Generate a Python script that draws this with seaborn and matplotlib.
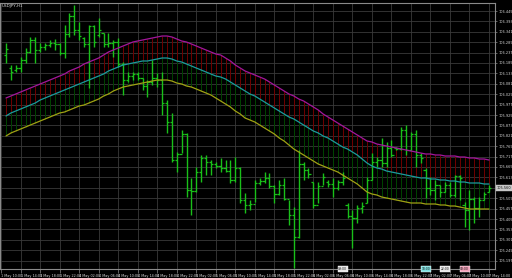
import numpy as np
import pandas as pd
import matplotlib
matplotlib.use("Agg")
import matplotlib.pyplot as plt
import seaborn as sns
from matplotlib.transforms import blended_transform_factory

symbol_title = "USDJPY,H1"

bar_high = [106.285, 106.175, 106.175, 106.215, 106.260, 106.315, 106.315, 106.285, 106.285, 106.300,
            106.305, 106.285, 106.375, 106.435, 106.475, 106.390, 106.315, 106.375, 106.375, 106.410,
            106.335, 106.335, 106.300, 106.310, 106.190, 106.140, 106.140, 106.140, 106.110, 106.100,
            106.200, 106.135, 106.140, 106.000, 105.935, 105.740, 105.850, 105.835, 105.610, 105.665,
            105.725, 105.725, 105.700, 105.690, 105.710, 105.700, 105.700, 105.715, 105.665, 105.535,
            105.500, 105.600, 105.610, 105.640, 105.635, 105.575, 105.600, 105.610, 105.500, 105.465,
            105.750, 105.690, 105.660, 105.590, 105.590, 105.635, 105.600, 105.610, 105.600, 105.640,
            105.485, 105.450, 105.475, 105.490, 105.615, 105.735, 105.715, 105.810, 105.790, 105.800,
            105.765, 105.865, 105.875, 105.840, 105.850, 105.735, 105.660, 105.615, 105.600, 105.575,
            105.590, 105.590, 105.625, 105.625, 105.490, 105.550, 105.515, 105.515, 105.540, 105.575]

bar_low = [106.185, 106.100, 106.140, 106.140, 106.185, 106.235, 106.185, 106.240, 106.250, 106.265,
           106.250, 106.225, 106.210, 106.315, 106.325, 106.300, 106.265, 106.060, 106.265, 106.315,
           106.265, 106.265, 106.215, 106.165, 106.025, 106.090, 106.100, 106.100, 106.050, 106.015,
           106.075, 106.065, 105.925, 105.835, 105.690, 105.640, 105.735, 105.515, 105.425, 105.540,
           105.590, 105.625, 105.625, 105.660, 105.640, 105.640, 105.585, 105.590, 105.485, 105.435,
           105.450, 105.490, 105.575, 105.585, 105.560, 105.485, 105.525, 105.500, 105.375, 105.160,
           105.310, 105.600, 105.610, 105.460, 105.485, 105.575, 105.565, 105.515, 105.550, 105.575,
           105.410, 105.260, 105.385, 105.435, 105.485, 105.600, 105.665, 105.665, 105.665, 105.715,
           105.750, 105.750, 105.725, 105.750, 105.665, 105.685, 105.510, 105.525, 105.500, 105.515,
           105.540, 105.515, 105.515, 105.500, 105.365, 105.350, 105.385, 105.415, 105.500, 105.540]

bar_open = [106.225, 106.160, 106.150, 106.160, 106.200, 106.240, 106.300, 106.250, 106.265, 106.275,
            106.285, 106.280, 106.235, 106.330, 106.420, 106.350, 106.310, 106.280, 106.370, 106.325,
            106.335, 106.280, 106.285, 106.290, 106.180, 106.100, 106.120, 106.130, 106.110, 106.070,
            106.090, 106.110, 106.100, 105.985, 105.890, 105.700, 105.730, 105.830, 105.550, 105.545,
            105.640, 105.710, 105.690, 105.680, 105.670, 105.660, 105.645, 105.600, 105.660, 105.500,
            105.475, 105.480, 105.585, 105.595, 105.610, 105.570, 105.530, 105.575, 105.505, 105.425,
            105.315, 105.680, 105.650, 105.590, 105.475, 105.570, 105.590, 105.580, 105.560, 105.590,
            105.475, 105.420, 105.410, 105.460, 105.485, 105.600, 105.690, 105.700, 105.685, 105.760,
            105.760, 105.755, 105.850, 105.750, 105.830, 105.725, 105.650, 105.560, 105.550, 105.575,
            105.540, 105.575, 105.525, 105.620, 105.475, 105.450, 105.505, 105.460, 105.500, 105.540]

bar_close = [106.255, 106.140, 106.160, 106.200, 106.240, 106.300, 106.250, 106.265, 106.275, 106.285,
             106.280, 106.235, 106.330, 106.420, 106.350, 106.320, 106.280, 106.370, 106.290, 106.350,
             106.280, 106.285, 106.290, 106.180, 106.100, 106.120, 106.130, 106.110, 106.070, 106.090,
             106.110, 106.100, 105.985, 105.890, 105.700, 105.730, 105.830, 105.550, 105.545, 105.640,
             105.710, 105.690, 105.680, 105.670, 105.660, 105.645, 105.600, 105.660, 105.500, 105.475,
             105.480, 105.585, 105.595, 105.610, 105.570, 105.530, 105.575, 105.505, 105.425, 105.315,
             105.680, 105.650, 105.630, 105.475, 105.570, 105.615, 105.580, 105.560, 105.590, 105.610,
             105.420, 105.410, 105.460, 105.470, 105.600, 105.690, 105.700, 105.685, 105.760, 105.725,
             105.755, 105.850, 105.750, 105.830, 105.725, 105.710, 105.560, 105.550, 105.575, 105.540,
             105.575, 105.525, 105.620, 105.610, 105.450, 105.505, 105.460, 105.500, 105.530, 105.560]

ma_upper = [106.010, 106.020, 106.030, 106.040, 106.050, 106.060, 106.070, 106.080, 106.090, 106.100,
            106.110, 106.120, 106.130, 106.145, 106.155, 106.165, 106.180, 106.190, 106.200, 106.210,
            106.225, 106.240, 106.250, 106.260, 106.270, 106.280, 106.290, 106.295, 106.300, 106.305,
            106.310, 106.315, 106.320, 106.320, 106.315, 106.305, 106.295, 106.290, 106.280, 106.270,
            106.260, 106.250, 106.240, 106.230, 106.225, 106.210, 106.195, 106.175, 106.160, 106.145,
            106.135, 106.125, 106.115, 106.105, 106.090, 106.075, 106.060, 106.045, 106.030, 106.020,
            106.005, 105.995, 105.980, 105.965, 105.950, 105.930, 105.915, 105.900, 105.885, 105.870,
            105.855, 105.840, 105.825, 105.810, 105.795, 105.790, 105.780, 105.775, 105.770, 105.765,
            105.760, 105.755, 105.750, 105.745, 105.740, 105.735, 105.730, 105.730, 105.725, 105.725,
            105.720, 105.720, 105.720, 105.715, 105.715, 105.710, 105.710, 105.705, 105.705, 105.700]

ma_middle = [105.920, 105.935, 105.945, 105.955, 105.965, 105.975, 105.985, 106.000, 106.010, 106.020,
             106.030, 106.040, 106.050, 106.060, 106.070, 106.080, 106.090, 106.100, 106.110, 106.120,
             106.130, 106.145, 106.155, 106.165, 106.175, 106.180, 106.185, 106.190, 106.195, 106.195,
             106.200, 106.205, 106.210, 106.210, 106.205, 106.195, 106.190, 106.180, 106.170, 106.160,
             106.150, 106.140, 106.130, 106.120, 106.115, 106.105, 106.090, 106.075, 106.060, 106.045,
             106.030, 106.020, 106.005, 105.990, 105.975, 105.960, 105.945, 105.930, 105.915, 105.905,
             105.890, 105.875, 105.860, 105.845, 105.835, 105.820, 105.810, 105.795, 105.780, 105.765,
             105.755, 105.740, 105.725, 105.705, 105.685, 105.670, 105.660, 105.655, 105.645, 105.640,
             105.635, 105.630, 105.625, 105.620, 105.615, 105.610, 105.610, 105.605, 105.605, 105.600,
             105.600, 105.595, 105.595, 105.590, 105.590, 105.585, 105.585, 105.585, 105.580, 105.580]

ma_lower = [105.820, 105.835, 105.845, 105.855, 105.865, 105.875, 105.885, 105.895, 105.905, 105.915,
            105.925, 105.935, 105.940, 105.950, 105.960, 105.970, 105.975, 105.985, 105.995, 106.005,
            106.020, 106.030, 106.045, 106.055, 106.065, 106.070, 106.075, 106.080, 106.085, 106.090,
            106.095, 106.100, 106.100, 106.100, 106.095, 106.085, 106.080, 106.070, 106.065, 106.055,
            106.045, 106.035, 106.025, 106.010, 105.995, 105.980, 105.965, 105.945, 105.930, 105.910,
            105.900, 105.890, 105.875, 105.860, 105.845, 105.830, 105.810, 105.795, 105.775, 105.755,
            105.740, 105.725, 105.710, 105.695, 105.680, 105.670, 105.660, 105.650, 105.640, 105.625,
            105.610, 105.595, 105.580, 105.560, 105.540, 105.530, 105.525, 105.515, 105.510, 105.505,
            105.500, 105.495, 105.490, 105.485, 105.485, 105.485, 105.480, 105.480, 105.480, 105.475,
            105.475, 105.470, 105.470, 105.465, 105.460, 105.455, 105.455, 105.455, 105.455, 105.455]

price_ticks = [106.445, 106.393, 106.341, 106.289, 106.237, 106.185, 106.133, 106.081, 106.029,
               105.977, 105.925, 105.873, 105.821, 105.769, 105.717, 105.665, 105.613, 105.561,
               105.509, 105.457, 105.405, 105.353, 105.301, 105.249, 105.197]

time_labels = ["1 May 10:00", "1 May 14:00", "1 May 18:00", "1 May 22:00", "4 May 02:00",
               "4 May 06:00", "4 May 10:00", "4 May 14:00", "4 May 18:00", "4 May 22:00",
               "5 May 02:00", "5 May 06:00", "5 May 10:00", "5 May 14:00", "5 May 18:00",
               "5 May 22:00", "6 May 02:00", "6 May 06:00", "6 May 10:00", "6 May 14:00",
               "6 May 18:00", "6 May 22:00", "7 May 02:00", "7 May 06:00", "7 May 10:00",
               "7 May 14:00"]

marker_labels = ["09:00", "18:00", "22:00", "03:00"]
marker_bars = [69, 86, 90, 94]
marker_colors = ["#e8e8e8", "#7fe0e0", "#e8e8e8", "#f0a0b8"]

sns.set_theme(style="dark", rc={"axes.facecolor": "black", "figure.facecolor": "black"})
plt.rcParams["font.family"] = ["DejaVu Sans"]

df = pd.DataFrame({
    "bar": np.arange(len(bar_high)),
    "high": bar_high, "low": bar_low, "open": bar_open, "close": bar_close,
    "ma_upper": ma_upper, "ma_middle": ma_middle, "ma_lower": ma_lower,
})

fig = plt.figure(figsize=(5.12, 2.78), dpi=100, facecolor="black")
ax = fig.add_axes([0.0, 9 / 278, 495 / 512, 266 / 278])
ax.set_facecolor("black")

idx = df["bar"].to_numpy()
grid_pos = np.arange(-1, len(idx), 4)

# grid
for gx in grid_pos:
    ax.axvline(gx, color="#3a3a3a", lw=0.6, zorder=0)
for gy in price_ticks:
    ax.axhline(gy, color="#3a3a3a", lw=0.6, zorder=0)

# band hatching per bar
ax.vlines(idx, df["ma_middle"], df["ma_upper"], colors="#700000", lw=0.7, zorder=1)
ax.vlines(idx, df["ma_lower"], df["ma_middle"], colors="#004400", lw=0.7, zorder=1)

# OHLC bars
green = "#19c019"
ax.vlines(idx, df["low"], df["high"], colors=green, lw=1.0, zorder=3)
ax.hlines(df["open"], idx - 0.45, idx, colors=green, lw=0.9, zorder=3)
ax.hlines(df["close"], idx, idx + 0.45, colors=green, lw=0.9, zorder=3)

# moving averages
sns.lineplot(data=df, x="bar", y="ma_upper", color="#a3169c", lw=0.9, ax=ax, zorder=4)
sns.lineplot(data=df, x="bar", y="ma_middle", color="#1a9c9c", lw=0.9, ax=ax, zorder=4)
sns.lineplot(data=df, x="bar", y="ma_lower", color="#a0a014", lw=0.9, ax=ax, zorder=4)

ax.set_xlim(-1.23, len(idx) - 1 + 1.23)
ax.set_ylim(105.155, 106.485)
ax.set_xlabel("")
ax.set_ylabel("")
ax.grid(False)

# axes styling
for sp in ax.spines.values():
    sp.set_color("#8a8a8a")
    sp.set_linewidth(0.8)
    sp.set_visible(True)

# price labels; the one under the current-price box is hidden, as in the reference
current_price = bar_close[-1]
ytick_text = ["" if abs(p - current_price) < 0.02 else f"{p:.3f}" for p in price_ticks]
ax.yaxis.tick_right()
ax.set_yticks(price_ticks)
ax.set_yticklabels(ytick_text)
ax.tick_params(axis="y", which="both", right=True, left=False, length=1.5, width=0.5,
               color="#8a8a8a", pad=0.8, labelsize=2.5, labelcolor="#d8d8d8")

ax.set_xticks(grid_pos)
ax.set_xticklabels(time_labels)
for lbl in ax.get_xticklabels():
    lbl.set_horizontalalignment("left")
ax.tick_params(axis="x", which="both", bottom=True, length=3, width=0.5, color="#8a8a8a",
               pad=0.6, labelsize=2.4, labelcolor="#d8d8d8")

# symbol title
ax.text(0.004, 0.995, symbol_title, transform=ax.transAxes, ha="left", va="top",
        fontsize=3.0, color="#d8d8d8", zorder=6)

# current price label
trans = blended_transform_factory(ax.transAxes, ax.transData)
ax.text(1.003, current_price, f"{current_price:.3f}", transform=trans, ha="left", va="center",
        fontsize=2.5, color="#101010", zorder=6, clip_on=False,
        bbox=dict(boxstyle="square,pad=0.15", fc="#c8c8c8", ec="#c8c8c8", lw=0.3))

# vertical line time markers on bottom axis
trans2 = blended_transform_factory(ax.transData, ax.transAxes)
for mb, ml, mc in zip(marker_bars, marker_labels, marker_colors):
    ax.text(mb, 0.0, ml, transform=trans2, ha="center", va="center", fontsize=2.2,
            color="#101010", zorder=7, clip_on=False,
            bbox=dict(boxstyle="square,pad=0.2", fc=mc, ec="#ffffff", lw=0.3))

fig.savefig("out.png", dpi=100, facecolor="black")
